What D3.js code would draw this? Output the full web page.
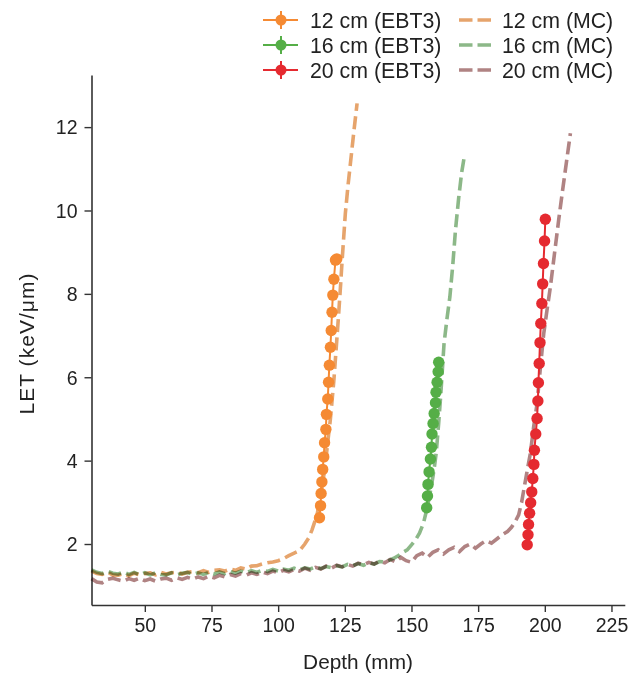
<!DOCTYPE html>
<html>
<head>
<meta charset="utf-8">
<script src="https://cdn.jsdelivr.net/npm/d3@7"></script>
<style>
  html, body { margin: 0; padding: 0; background: #fff; }
  svg { display: block; font-family: "Liberation Sans", Arial, Helvetica, sans-serif; }
</style>
</head>
<body>
<svg id="chart" width="639" height="673"></svg>
<script>
// ---------------- DATA ----------------
const xTicks = [50, 75, 100, 125, 150, 175, 200, 225];
const yTicks = [2, 4, 6, 8, 10, 12];

const legendLabelsEBT3 = ["12 cm (EBT3)", "16 cm (EBT3)", "20 cm (EBT3)"];
const legendLabelsMC = ["12 cm (MC)", "16 cm (MC)", "20 cm (MC)"];

// EBT3 measurements
const ebt3_12_depth = [122.0, 121.5, 120.9, 120.5, 120.2, 119.9, 119.6, 119.2, 118.9, 118.6, 118.1, 117.9, 117.4, 117.1, 116.7, 116.4, 116.1, 115.9, 115.5];
const ebt3_12_let   = [8.84, 8.81, 8.35, 7.97, 7.56, 7.12, 6.72, 6.29, 5.88, 5.48, 5.11, 4.75, 4.43, 4.09, 3.79, 3.49, 3.21, 2.92, 2.63];

const ebt3_16_depth = [160.2, 160.0, 159.6, 159.2, 159.0, 158.5, 158.1, 157.7, 157.5, 157.1, 156.6, 156.2, 156.0, 155.7];
const ebt3_16_let   = [6.36, 6.13, 5.88, 5.64, 5.39, 5.13, 4.89, 4.64, 4.32, 4.04, 3.73, 3.43, 3.15, 2.87];

const ebt3_20_depth = [200.2, 199.9, 199.5, 199.2, 198.9, 198.5, 198.2, 197.9, 197.6, 197.4, 197.1, 196.6, 196.1, 195.9, 195.5, 195.1, 194.7, 194.3, 193.9, 193.7, 193.4];
const ebt3_20_let   = [9.79, 9.27, 8.73, 8.24, 7.77, 7.29, 6.83, 6.33, 5.87, 5.43, 5.01, 4.64, 4.25, 3.91, 3.57, 3.25, 2.99, 2.74, 2.47, 2.22, 1.98];

// Monte Carlo curves
const mc_12_depth = [30,32,34,36,38,40,42,44,46,48,50,52,54,56,58,60,62,64,66,68,70,72,74,76,78,80,82,84,86,88,90,92,94,96,98,100,102,104,106,108,110,111.5,112.7,114.6,116,117.5,118.4,119.6,120.9,122,122.7,123.4,124,125.2,126.2,127.1,128.4,129.6];
const mc_12_let   = [1.35,1.29,1.27,1.32,1.26,1.25,1.29,1.24,1.30,1.26,1.29,1.31,1.26,1.32,1.28,1.31,1.33,1.28,1.32,1.34,1.31,1.36,1.32,1.37,1.38,1.35,1.40,1.37,1.43,1.40,1.47,1.48,1.52,1.55,1.57,1.60,1.65,1.72,1.78,1.84,2.00,2.15,2.34,2.70,3.20,3.80,4.33,5.00,5.93,6.90,7.53,8.20,8.81,9.93,10.60,11.13,11.90,12.57];

const mc_16_depth = [30,32,34,36,38,40,42,44,46,48,50,52,54,56,58,60,62,64,66,68,70,72,74,76,78,80,82,84,86,88,90,92,94,96,98,100,102,104,106,108,110,112,114,116,118,120,122,124,126,128,130,132,134,136,138,140,142,143.4,145,146.8,148.4,150,151.5,153,154.5,156,157.5,158.5,159.3,160.2,161,161.6,162.2,163.3,164.4,165.5,166.5,167.7,168.8,169.9];
const mc_16_let   = [1.38,1.32,1.29,1.35,1.30,1.28,1.33,1.27,1.32,1.26,1.31,1.26,1.31,1.27,1.26,1.31,1.26,1.30,1.32,1.27,1.31,1.27,1.32,1.28,1.33,1.29,1.34,1.30,1.35,1.31,1.36,1.32,1.37,1.34,1.39,1.35,1.40,1.37,1.42,1.38,1.43,1.40,1.45,1.41,1.46,1.43,1.48,1.45,1.51,1.48,1.53,1.49,1.55,1.52,1.58,1.57,1.62,1.66,1.72,1.80,1.86,1.98,2.10,2.26,2.50,2.90,3.40,3.80,4.20,4.90,5.60,6.20,6.80,7.40,7.93,8.70,9.53,10.30,10.90,11.33];

const mc_20_depth = [30,32,34,36,38,40,42,44,46,48,50,52,54,56,58,60,62,64,66,68,70,72,74,76,78,80,82,84,86,88,90,92,94,96,98,100,102,104,106,108,110,112,114,116,118,120,122,124,126,128,130,132,134,136,138,140,142,144,146,148,150,152,154,156,158,160,162,164,166,168,170,172,174,176,178,180,182,184,186,187.5,189,190.2,191.3,192.4,193.5,194.6,195.8,197.1,198.3,199.6,200.8,202.1,203.6,205.2,206.7,208.2,209.6];
const mc_20_let   = [1.17,1.09,1.07,1.15,1.18,1.14,1.11,1.17,1.13,1.18,1.12,1.16,1.11,1.16,1.18,1.13,1.19,1.15,1.20,1.16,1.21,1.17,1.23,1.19,1.25,1.21,1.27,1.23,1.29,1.25,1.31,1.27,1.33,1.29,1.35,1.31,1.37,1.33,1.39,1.35,1.42,1.37,1.44,1.40,1.47,1.42,1.49,1.45,1.51,1.47,1.54,1.50,1.56,1.52,1.59,1.55,1.63,1.57,1.68,1.60,1.56,1.72,1.78,1.68,1.80,1.86,1.76,1.86,1.92,1.82,1.94,2.00,1.90,2.00,2.08,2.02,2.12,2.22,2.30,2.40,2.55,2.70,3.00,3.40,3.80,4.18,4.80,5.37,6.20,7.05,7.60,8.17,8.95,9.77,10.50,11.20,11.85];

const ebt3Colors = ["#f58a33", "#55ae47", "#e52a30"];
const mcColors = ["#e6a46c", "#8cb888", "#b08383"];

// ---------------- CHART ----------------
const svg = d3.select("#chart");
const x = d3.scaleLinear().domain([30, 230]).range([91.5, 624.8]);
const y = d3.scaleLinear().domain([0.537, 13.25]).range([605, 75]);

const axisColor = "#333";

// Axes
const gx = svg.append("g").attr("transform", "translate(0,605)")
  .call(d3.axisBottom(x).tickValues(xTicks).tickSize(7).tickPadding(6).tickSizeOuter(0));
const gy = svg.append("g").attr("transform", "translate(91.5,0)")
  .call(d3.axisLeft(y).tickValues(yTicks).tickSize(7).tickPadding(7).tickSizeOuter(0));
[gx, gy].forEach(g => {
  g.select(".domain").attr("stroke", axisColor).attr("stroke-width", 1.6);
  g.selectAll(".tick line").attr("stroke", axisColor).attr("stroke-width", 1.4);
  g.selectAll(".tick text").attr("fill", "#222").style("font-size", "19.5px")
    .style("font-family", "'Liberation Sans', Arial, sans-serif");
});
gy.selectAll(".tick text").attr("dy", "0.35em");

// Axis labels
svg.append("text").attr("x", 358).attr("y", 669).attr("text-anchor", "middle")
  .attr("fill", "#222").style("font-size", "20.8px").text("Depth (mm)");
svg.append("text").attr("transform", "translate(34,344) rotate(-90)").attr("text-anchor", "middle")
  .attr("fill", "#222").style("font-size", "21px")
  .attr("textLength", 141).attr("lengthAdjust", "spacing").text("LET (keV/μm)");

const plot = svg.append("g");

// MC lines
const mcSeries = [
  {d: mc_12_depth, v: mc_12_let},
  {d: mc_16_depth, v: mc_16_let},
  {d: mc_20_depth, v: mc_20_let}
];
const line = d3.line().x(p => x(p[0])).y(p => y(p[1]));
mcSeries.forEach((s, i) => {
  const pts = s.d.map((dd, k) => [dd, s.v[k]]);
  plot.append("path").attr("d", line(pts)).attr("fill", "none")
    .attr("stroke", mcColors[i]).attr("stroke-width", 3.6)
    .attr("stroke-dasharray", "13,5.5")
    .style("mix-blend-mode", "multiply");
});

// EBT3 series
const ebtSeries = [
  {d: ebt3_12_depth, v: ebt3_12_let},
  {d: ebt3_16_depth, v: ebt3_16_let},
  {d: ebt3_20_depth, v: ebt3_20_let}
];
ebtSeries.forEach((s, i) => {
  const pts = s.d.map((dd, k) => [dd, s.v[k]]);
  plot.append("path").attr("d", line(pts)).attr("fill", "none")
    .attr("stroke", ebt3Colors[i]).attr("stroke-width", 2);
  plot.selectAll(null).data(pts).enter().append("circle")
    .attr("cx", p => x(p[0])).attr("cy", p => y(p[1])).attr("r", 5.7)
    .attr("fill", ebt3Colors[i]);
});

// Legend
const leg = svg.append("g");
const rowY = [20, 45, 70];
legendLabelsEBT3.forEach((lab, i) => {
  const g = leg.append("g").attr("transform", `translate(0,${rowY[i]})`);
  g.append("line").attr("x1", 263).attr("x2", 298).attr("y1", 0).attr("y2", 0)
    .attr("stroke", ebt3Colors[i]).attr("stroke-width", 2);
  g.append("line").attr("x1", 281).attr("x2", 281).attr("y1", -9).attr("y2", 9)
    .attr("stroke", ebt3Colors[i]).attr("stroke-width", 2);
  g.append("circle").attr("cx", 281).attr("cy", 0).attr("r", 5.5).attr("fill", ebt3Colors[i]);
  g.append("text").attr("x", 310).attr("y", 0).attr("dy", "0.36em").attr("fill", "#222")
    .style("font-size", "21.3px").text(lab);
});
legendLabelsMC.forEach((lab, i) => {
  const g = leg.append("g").attr("transform", `translate(0,${rowY[i]})`);
  g.append("line").attr("x1", 459).attr("x2", 491).attr("y1", 0).attr("y2", 0)
    .attr("stroke", mcColors[i]).attr("stroke-width", 3.6).attr("stroke-dasharray", "13.5,5");
  g.append("text").attr("x", 502).attr("y", 0).attr("dy", "0.36em").attr("fill", "#222")
    .style("font-size", "21.3px").text(lab);
});
</script>
</body>
</html>
